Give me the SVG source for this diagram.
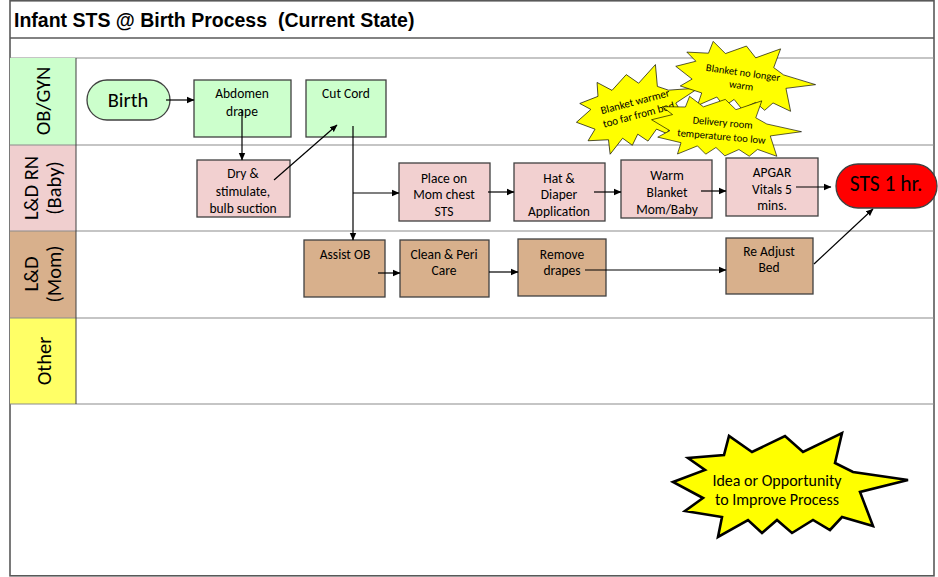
<svg xmlns="http://www.w3.org/2000/svg" width="938" height="577" viewBox="0 0 938 577">
<style>
.t{font-family:Carlito,Calibri,"Liberation Sans",sans-serif;fill:#000;text-anchor:middle}
.bx{font-size:13.5px}
.lane{font-size:20.5px}
.grid{stroke:#8c8c8c;stroke-width:1.2;fill:none}
.g{fill:#ccffcc;stroke:#404040;stroke-width:1.3}
.p{fill:#f2d0d0;stroke:#404040;stroke-width:1.3}
.m{fill:#d8b08c;stroke:#404040;stroke-width:1.3}
.c{stroke:#000;stroke-width:1.2;fill:none;marker-end:url(#ah)}
.sb{fill:#ffff00;stroke:#000;stroke-width:1;vector-effect:non-scaling-stroke}
.st{font-size:10.5px}
</style>
<defs>
<marker id="ah" markerWidth="8" markerHeight="8" refX="7" refY="4" orient="auto" markerUnits="userSpaceOnUse">
<path d="M0,0.8 L7.5,4 L0,7.2 Z" fill="#000"/>
</marker>
<path id="burst" d="M-117,-3 L-85,-15 L-102,-27 L-66,-30 L-61,-49 L-38,-33 L-5,-49 L13,-33 L52,-52 L45,-22 L63,-13 L118,-5 L70,7 L83,41 L52,32 L40,45 L23,35 L2,48 L-13,35 L-28,48 L-42,35 L-72,52 L-68,32 L-105,26 L-87,13 Z"/>
</defs>
<rect x="0" y="0" width="938" height="577" fill="#fff"/>
<g id="frame">
<rect x="10" y="0.8" width="924" height="575" fill="none" stroke="#595959" stroke-width="1.6"/>
<line x1="10" y1="38" x2="934" y2="38" stroke="#595959" stroke-width="1.4"/>
<line class="grid" x1="10" y1="58" x2="934" y2="58"/>
<rect x="10" y="58" width="66" height="87" fill="#ccffcc"/>
<rect x="10" y="145" width="66" height="86" fill="#f0cfcf"/>
<rect x="10" y="231" width="66" height="87" fill="#d8b08c"/>
<rect x="10" y="318" width="66" height="86" fill="#ffff66"/>
<line class="grid" x1="10" y1="145" x2="934" y2="145"/>
<line class="grid" x1="10" y1="231" x2="934" y2="231"/>
<line class="grid" x1="10" y1="318" x2="934" y2="318"/>
<line class="grid" x1="10" y1="404" x2="934" y2="404"/>
<line x1="76" y1="58" x2="76" y2="404" stroke="#404040" stroke-width="1"/>
<text x="14" y="26.5" font-family="'Liberation Sans',Arial,sans-serif" font-weight="bold" font-size="19.5" xml:space="preserve">Infant STS @ Birth Process  (Current State)</text>
</g>
<g id="lane-labels">
<text class="t lane" transform="translate(50,101) rotate(-90)">OB/GYN</text>
<text class="t lane" transform="translate(38,188) rotate(-90)">L&amp;D RN</text>
<text class="t lane" transform="translate(61,188) rotate(-90)">(Baby)</text>
<text class="t lane" transform="translate(38,274) rotate(-90)">L&amp;D</text>
<text class="t lane" transform="translate(61,274) rotate(-90)">(Mom)</text>
<text class="t lane" transform="translate(51,361) rotate(-90)">Other</text>
</g>
<g id="birth"><rect x="87" y="80" width="83" height="40" rx="20" class="g"/><text class="t" x="128" y="107" font-size="20.5">Birth</text></g>
<g id="abdomen-drape"><rect x="194" y="80" width="97" height="57" class="g"/><text class="t bx" x="242" y="97.5">Abdomen</text><text class="t bx" x="242" y="115.5">drape</text></g>
<g id="cut-cord"><rect x="306" y="80" width="80" height="57" class="g"/><text class="t bx" x="346" y="97.5">Cut Cord</text></g>
<g id="dry-stimulate"><rect x="197" y="160" width="93" height="57" class="p"/><text class="t bx" x="243" y="177.5">Dry &amp;</text><text class="t bx" x="243" y="196">stimulate,</text><text class="t bx" x="243" y="212.5">bulb suction</text></g>
<g id="place-on-mom"><rect x="399" y="163" width="91" height="58" class="p"/><text class="t bx" x="444" y="182.5">Place on</text><text class="t bx" x="444" y="199">Mom chest</text><text class="t bx" x="444" y="215.5">STS</text></g>
<g id="hat-diaper"><rect x="514" y="163" width="91" height="58" class="p"/><text class="t bx" x="559" y="182.5">Hat &amp;</text><text class="t bx" x="559" y="199">Diaper</text><text class="t bx" x="559" y="215.5">Application</text></g>
<g id="warm-blanket"><rect x="621" y="160" width="91" height="58" class="p"/><text class="t bx" x="667" y="179.5">Warm</text><text class="t bx" x="667" y="196.5">Blanket</text><text class="t bx" x="667" y="213.5">Mom/Baby</text></g>
<g id="apgar"><rect x="726" y="158" width="92" height="58" class="p"/><text class="t bx" x="772" y="176.5">APGAR</text><text class="t bx" x="772" y="193.5">Vitals 5</text><text class="t bx" x="772" y="209.5">mins.</text></g>
<g id="sts-1hr"><rect x="836" y="164" width="101" height="44" rx="22" fill="#ff0000" stroke="#404040" stroke-width="1.3"/><text class="t" x="886" y="190.5" font-size="21.5">STS 1 hr.</text></g>
<g id="assist-ob"><rect x="304" y="240" width="81" height="57" class="m"/><text class="t bx" x="345" y="258.5">Assist OB</text></g>
<g id="clean-peri"><rect x="400" y="240" width="89" height="57" class="m"/><text class="t bx" x="444" y="258.5">Clean &amp; Peri</text><text class="t bx" x="444" y="274.5">Care</text></g>
<g id="remove-drapes"><rect x="518" y="239" width="88" height="57" class="m"/><text class="t bx" x="562" y="258.5">Remove</text><text class="t bx" x="562" y="274.5">drapes</text></g>
<g id="re-adjust-bed"><rect x="726" y="238" width="87" height="56" class="m"/><text class="t bx" x="769" y="255.5">Re Adjust</text><text class="t bx" x="769" y="271.5">Bed</text></g>
<g id="connectors">
<line class="c" x1="166" y1="100" x2="194" y2="100"/>
<line class="c" x1="242" y1="110" x2="242" y2="160"/>
<line class="c" x1="274" y1="180" x2="337" y2="125"/>
<polyline class="c" points="353,126 353,240"/>
<polyline class="c" points="353,193 399,193"/>
<line class="c" x1="488" y1="192" x2="514" y2="192"/>
<line class="c" x1="594" y1="192" x2="621" y2="192"/>
<line class="c" x1="701" y1="191" x2="726" y2="191"/>
<line class="c" x1="796" y1="187" x2="831" y2="187"/>
<line class="c" x1="378" y1="273" x2="400" y2="273"/>
<line class="c" x1="489" y1="272" x2="518" y2="272"/>
<line class="c" x1="585" y1="270" x2="726" y2="270"/>
<line class="c" x1="814" y1="264" x2="873" y2="209"/>
</g>
<g id="burst-warmer-far">
<use href="#burst" class="sb" transform="translate(638,108) rotate(-15) scale(0.54,0.72)"/>
<g transform="translate(637,109) rotate(-15)"><text class="t" font-size="11" x="0" y="-4">Blanket warmer</text><text class="t" font-size="11" x="0" y="9.5">too far from bed</text></g>
</g>
<g id="burst-no-longer-warm">
<use href="#burst" class="sb" transform="translate(745,78) rotate(8) scale(0.6,0.65)"/>
<g transform="translate(742,80) rotate(8)"><text class="t st" x="0" y="-4">Blanket no longer</text><text class="t st" x="0" y="9">warm</text></g>
</g>
<g id="burst-room-temp">
<use href="#burst" class="sb" transform="translate(726,128) rotate(5) scale(0.64,0.58)"/>
<g transform="translate(722,130) rotate(5)"><text class="t st" x="0" y="-4">Delivery room</text><text class="t st" x="0" y="10">temperature too low</text></g>
</g>
<g id="burst-idea">
<use href="#burst" fill="#ffff00" stroke="#000" stroke-width="2.6" transform="translate(790,485)"/>
<text class="t" x="777" y="486" font-size="16">Idea or Opportunity</text>
<text class="t" x="777" y="505" font-size="16">to Improve Process</text>
</g>
</svg>
